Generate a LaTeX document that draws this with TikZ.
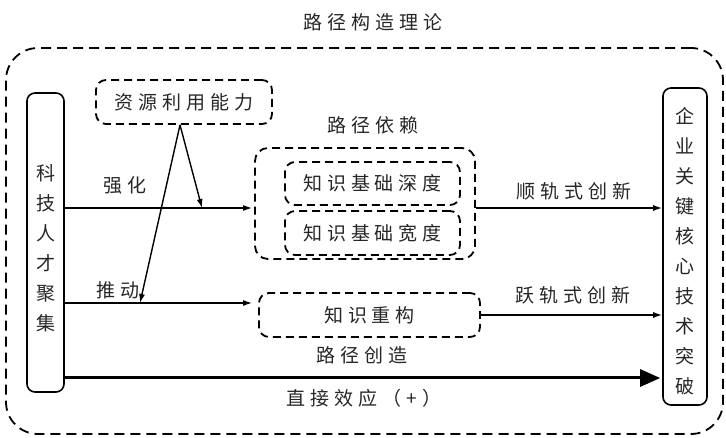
\documentclass[tikz,border=0pt]{standalone}
\usepackage{fontspec}
\newfontfamily\cjk[LetterSpace=26]{Noto Sans CJK SC}
\newfontfamily\cjkv{Noto Sans CJK SC}
\usetikzlibrary{arrows.meta}
\begin{document}
\begin{tikzpicture}[x=1pt,y=-1pt,
  txt/.style={font=\cjk\fontsize{19}{21}\selectfont, text=black!85, inner sep=0pt},
  dbox/.style={draw, dash pattern=on 8pt off 5pt, line width=1.8pt, rounded corners=10pt, inner sep=0pt, txt},
  frame/.style={draw, dash pattern=on 10pt off 6pt, line width=1.8pt, rounded corners=32pt, inner sep=0pt},
  sbox/.style={draw, line width=1.6pt, rounded corners=8pt, inner sep=0pt},
  vtext/.style={inner sep=0pt, align=center, text=black!85, font=\cjkv\fontsize{19}{30}\selectfont},
  arr/.style={-{Latex[length=9pt,width=6pt]}, line width=1.4pt},
  big/.style={-{Triangle[length=20pt,width=17pt]}, line width=3pt}]
\useasboundingbox (0,0) rectangle (726,438);
% outer frame and title
\node[frame, minimum width=717pt, minimum height=386pt] (frm) at (364.5,241) {};
\node[txt] (title) at (373,22) {路径构造理论};
% boxes
\node[sbox, minimum width=37pt, minimum height=299pt] (L) at (45.5,242.5) {};
\node[vtext] (Lt) at (45.5,248) {科\\技\\人\\才\\聚\\集};
\node[sbox, minimum width=44pt, minimum height=317pt] (R) at (685,246.5) {};
\node[vtext] (Rt) at (685,251.5) {企\\业\\关\\键\\核\\心\\技\\术\\突\\破};
\node[dbox, minimum width=176pt, minimum height=44pt] (res) at (184,102) {资源利用能力};
\node[txt] (deplab) at (373,125) {路径依赖};
\node[dbox, rounded corners=13pt, minimum width=220pt, minimum height=111pt] (grp) at (365,203.5) {};
\node[dbox, minimum width=175pt, minimum height=43pt] (dep1) at (372.5,183.5) {知识基础深度};
\node[dbox, minimum width=175pt, minimum height=44pt] (dep2) at (372.5,233) {知识基础宽度};
\node[dbox, minimum width=221pt, minimum height=44pt] (rec) at (369.5,315) {知识重构};
\node[txt] (crelab) at (362,355) {路径创造};
% coordinates
\coordinate (m1) at (202,208);
\coordinate (m2) at (140,303);
\coordinate (m3) at (100,378);
% arrows
\draw[arr] (L.east |- m1) -- ([xshift=-2pt]grp.west |- m1);
\draw[arr] (L.east |- m2) -- ([xshift=-6pt]rec.west |- m2);
\draw[arr] ([xshift=-4pt]res.south) -- (m1);
\draw[arr] ([xshift=-4pt]res.south) -- (m2);
\draw[arr] (grp.east |- m1) -- (R.west |- m1);
\draw[arr] (rec.east) -- (R.west |- rec.east);
\draw[big] (L.east |- m3) -- ([xshift=-2pt]R.west |- m3);
% labels
\node[txt] (l1) at (125,185) {强化};
\node[txt] (l2) at (118,290) {推动};
\node[txt] (l3) at (574,191) {顺轨式创新};
\node[txt] (l4) at (573,295) {跃轨式创新};
\node[txt] (l5) at (364,398) {直接效应（+）};
\end{tikzpicture}
\end{document}
